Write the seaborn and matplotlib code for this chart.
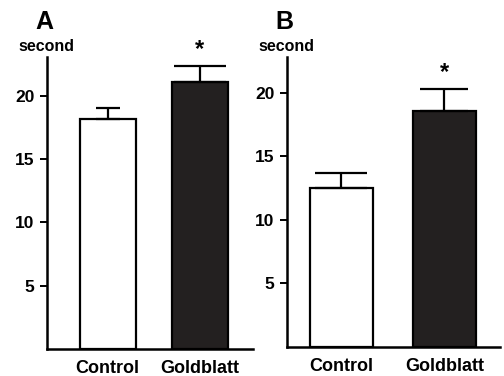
import numpy as np
import pandas as pd
import matplotlib
matplotlib.use("Agg")
import matplotlib.pyplot as plt
import seaborn as sns

groups = ["Control", "Goldblatt"]
mean_a = [18.2, 21.1]
sem_a = [0.8, 1.25]
mean_b = [12.5, 18.6]
sem_b = [1.2, 1.7]
ticks = [5, 10, 15, 20]
colors = ["white", "#231f20"]

sns.set_style("ticks")
plt.rcParams['font.family'] = ['Liberation Sans', 'DejaVu Sans']
plt.rcParams['font.weight'] = 'bold'
for k in ["text.color", "axes.labelcolor", "xtick.color", "ytick.color", "axes.edgecolor"]:
    plt.rcParams[k] = "black"

fig = plt.figure(figsize=(5.04, 3.76), dpi=100)

panels = [
    ("A", mean_a, sem_a, [0.093, 0.072, 0.409, 0.776], (-0.66, 1.58), 23.05, [8.6, 19]),
    ("B", mean_b, sem_b, [0.569, 0.077, 0.423, 0.771], (-0.53, 1.54), 22.8, [19, 17]),
]

for letter, means, sems, pos, xlim, ytop, caps in panels:
    ax = fig.add_axes(pos)
    df = pd.DataFrame({"group": groups, "value": means})
    sns.barplot(data=df, x="group", y="value", hue="group", palette=colors,
                width=0.61, edgecolor="black", linewidth=1.6, legend=False,
                errorbar=None, ax=ax)
    for i in range(len(groups)):
        ax.errorbar(i, means[i], yerr=[[0], [sems[i]]], fmt="none",
                    ecolor="black", elinewidth=1.6, capsize=caps[i],
                    capthick=1.6, zorder=1)
    ax.text(1, means[1] + sems[1] + 0.4, "*", ha="center", va="bottom",
            fontsize=17, fontweight="bold")
    ax.set_xlim(*xlim)
    ax.set_ylim(0, ytop)
    ax.set_yticks(ticks)
    ax.set_yticklabels([str(t) for t in ticks], fontsize=12.5, fontweight="bold")
    ax.tick_params(axis="y", length=5, width=1.4, pad=4)
    ax.tick_params(axis="x", length=0, pad=8)
    for lbl in ax.get_xticklabels():
        lbl.set_fontsize(13)
        lbl.set_fontweight("bold")
    ax.set_xlabel("")
    ax.set_ylabel("")
    sns.despine(ax=ax)
    for s in ["left", "bottom"]:
        ax.spines[s].set_linewidth(1.8)
    ax.text(0.0, 1.038, "second", transform=ax.transAxes, ha="center",
            va="center", fontsize=11.5, fontweight="bold")
    ax.text(-0.01, 1.12, letter, transform=ax.transAxes, ha="center",
            va="center", fontsize=18, fontweight="bold")

fig.savefig("out.png", dpi=100)
